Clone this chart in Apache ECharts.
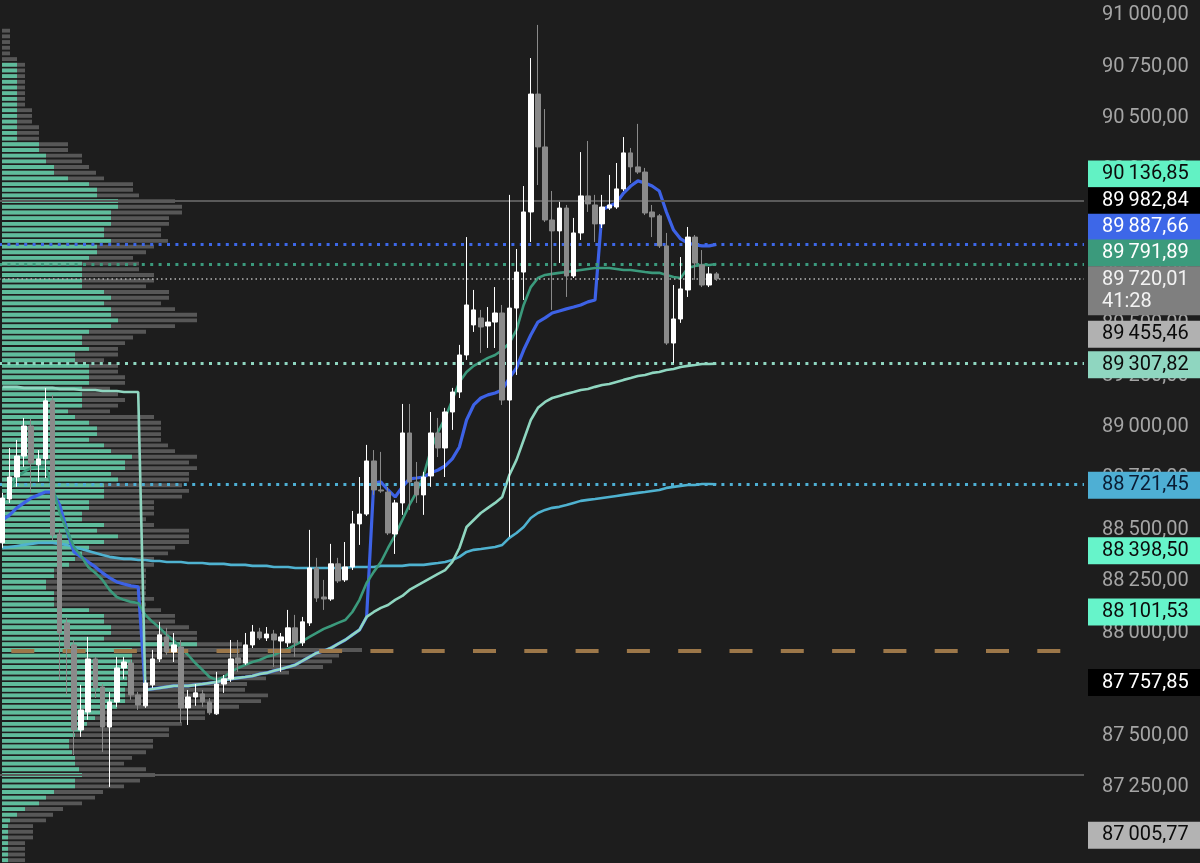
<!DOCTYPE html>
<html><head><meta charset="utf-8">
<script src="https://cdn.jsdelivr.net/npm/echarts/dist/echarts.min.js"></script>
<style>html,body{margin:0;padding:0;background:#1d1d1d;}#chart{width:1200px;height:863px;}</style>
</head><body><div id="chart"></div>
<script>
// ---- candles ----
const opens = [88437,88650,88757,88859,89005,88816,88845,89127,88480,88048,
87941,87528,87615,87873,87737,87542,87664,87829,87853,87698,
87645,87747,87873,87980,87907,87931,87635,87688,87703,87664,
87606,87751,87776,87878,87853,87941,88004,87975,87994,87960,
87951,88024,87951,88048,88315,88174,88164,88335,88257,88320,
88529,88577,88835,88694,88684,88480,88631,88971,88733,88670,
88762,88971,88898,89073,89170,89350,89496,89530,89491,89510,
89554,89131,89578,89753,90045,90618,90361,90006,89953,90064,
89734,89943,90123,90079,89987,90064,90069,90157,90332,90264,
90239,90045,90026,89880,89408,89525,89666,89923,89787,89690,
89744];
const closes = [88655,88757,88859,89005,88825,88845,89127,88475,87999,87926,
87528,87625,87873,87732,87542,87664,87829,87858,87698,87649,
87756,87873,87990,87907,87941,87635,87688,87708,87664,87611,
87751,87776,87873,87853,87941,88004,87975,87994,87965,87980,
88024,87951,88053,88315,88169,88164,88335,88252,88320,88529,
88577,88835,88694,88689,88485,88631,88971,88733,88670,88757,
88971,88898,89073,89170,89350,89593,89569,89486,89510,89554,
89131,89578,89753,90045,90618,90361,90006,89953,90064,89734,
89943,90123,90084,89987,90069,90079,90157,90332,90264,90239,
90040,90021,89880,89408,89525,89671,89923,89797,89690,89744,
89720.01];
const lows = [88413,88631,88709,88806,88680,88733,88752,88451,87771,87698,
87406,87494,87577,87683,87421,87251,87640,87776,87674,87625,
87635,87732,87858,87892,87858,87562,87552,87645,87640,87601,
87601,87708,87761,87810,87844,87926,87965,87960,87834,87810,
87931,87883,87936,88033,88150,88111,88155,88242,88247,88305,
88427,88568,88670,88680,88475,88383,88573,88597,88631,88573,
88709,88854,88757,88986,89141,89326,89462,89360,89384,89384,
89107,88466,89253,89617,89899,90176,89996,89569,89797,89632,
89724,89909,90045,89899,89967,90055,90060,90147,90186,90230,
90030,89923,89870,89399,89311,89506,89632,89715,89680,89680,
89710];
const highs = [88680,88898,88937,89044,89039,88888,89190,89156,88500,88072,
87965,87747,87980,87883,87751,87713,87883,87883,87868,87713,
87771,87917,88053,88024,87999,87965,87722,87751,87722,87683,
87810,87795,87965,87965,87999,88038,88024,88028,88014,87999,
88111,88087,88077,88500,88364,88257,88432,88364,88441,88592,
88757,88913,88888,88879,88709,88646,89112,89112,88830,88782,
89073,89044,89093,89190,89399,89923,89666,89569,89583,89680,
89593,90128,89865,90171,90793,90954,90545,90147,90094,90079,
90016,90336,90390,90128,90128,90225,90283,90409,90356,90473,
90259,90079,90035,89943,89690,89826,89972,89933,89860,89778,
89753];

// ---- anchored VWAP lines ----
const blueLine = [88548,88573,88607,88631,88655,88670,88684,88684,88621,88500,
88393,88369,88344,88320,88291,88267,88247,88237,88228,88223,
87722,87727,87732,87737,87742,87742,87742,87747,87751,87756,
87761,87771,87776,87781,87785,87790,87800,87805,87815,87824,
87834,87844,87863,87883,87902,87912,87926,87946,87965,87990,
88014,88077,88728,88733,88694,88660,88709,88748,88752,88757,
88777,88791,88811,88845,88903,89034,89107,89141,89156,89165,
89180,89238,89287,89374,89447,89510,89530,89554,89564,89574,
89583,89593,89608,89617,90055,90074,90089,90137,90171,90196,
90186,90171,90147,90045,89957,89914,89894,89885,89880,89880,
89887.66];
const greenLine = [88631,88694,88757,88782,88801,88806,88806,88709,88582,88500,
88417,88373,88320,88291,88257,88208,88174,88160,88150,88145,
88087,88053,88024,87990,87960,87926,87892,87853,87820,87785,
87771,87785,87810,87829,87844,87858,87868,87883,87892,87907,
87922,87941,87960,87980,87999,88019,88033,88048,88062,88101,
88160,88242,88296,88344,88412,88475,88548,88621,88684,88767,
88888,88976,89044,89131,89219,89267,89297,89316,89336,89350,
89374,89408,89472,89593,89680,89724,89739,89744,89749,89753,
89758,89763,89768,89773,89773,89773,89768,89763,89763,89758,
89753,89749,89749,89739,89729,89724,89773,89783,89787,89787,
89791.89];
const tealLine = [89195,89195,89195,89190,89190,89190,89190,89190,89185,89185,
89185,89180,89180,89180,89175,89175,89175,89170,89170,89170,
87722,87727,87732,87737,87742,87742,87742,87747,87751,87756,
87761,87771,87776,87781,87785,87790,87800,87805,87815,87824,
87834,87844,87863,87883,87902,87912,87926,87946,87965,87990,
88014,88077,88101,88121,88135,88160,88179,88208,88228,88247,
88267,88286,88305,88344,88412,88514,88548,88582,88607,88631,
88660,88767,88840,88937,89034,89093,89122,89141,89151,89161,
89170,89180,89185,89195,89204,89209,89219,89229,89238,89248,
89253,89263,89267,89277,89282,89292,89297,89301,89306,89306,
89307.82];
const cyanLine = [88412,88417,88422,88427,88432,88437,88437,88437,88432,88427,
88417,88407,88398,88388,88378,88369,88364,88359,88359,88354,
88354,88349,88349,88344,88344,88344,88339,88339,88339,88335,
88335,88335,88330,88330,88330,88325,88325,88325,88320,88320,
88320,88315,88315,88315,88315,88315,88315,88315,88315,88320,
88320,88320,88320,88325,88325,88325,88325,88330,88330,88330,
88335,88339,88344,88354,88369,88393,88403,88407,88412,88417,
88427,88461,88485,88514,88558,88582,88597,88607,88612,88621,
88631,88641,88646,88650,88655,88660,88665,88670,88675,88680,
88684,88689,88694,88704,88709,88714,88718,88718,88723,88723,
88721.45];

// ---- volume profile (top bin first) ----
const profileTopPrice = 90926;
const profileStep = 27.61;
const profileBuy = [0,0,0,0,0,0,15,15,15,15,15,15,15,15,15,15,15,15,15,15,
37,37,44,44,52,52,66,87,95,95,116,116,109,109,109,102,102,109,95,95,
87,80,80,80,80,80,102,109,102,109,109,116,109,87,80,80,87,73,73,87,
87,87,87,80,80,80,80,66,73,87,95,95,87,102,109,130,123,123,109,116,
102,102,102,87,87,80,80,102,95,116,102,87,80,73,67,52,52,44,44,52,
52,52,87,102,102,109,109,102,195,130,130,130,130,128,125,125,123,123,123,115,
100,93,85,80,73,67,67,70,73,73,77,80,73,73,52,44,37,23,15,8,
6,6,6,6,6,6,6];
const profileTotal = [8,8,8,8,8,15,23,23,23,23,23,23,23,23,30,30,30,37,37,37,
66,66,80,80,87,94,102,131,131,137,173,180,180,167,167,159,159,166,152,144,
131,137,137,152,152,144,167,167,159,173,195,195,173,144,131,123,116,116,102,116,
116,123,123,108,116,123,116,108,152,159,159,159,159,166,173,195,187,195,187,187,
180,187,180,152,152,152,144,152,187,187,187,173,166,152,152,144,144,144,144,144,
152,144,159,173,173,187,195,195,240,360,337,330,321,287,264,245,243,266,259,237,
203,203,180,167,167,151,151,144,130,122,144,153,138,122,101,93,80,61,51,44,
31,31,31,23,23,23,23];

// ---- right-hand price tags ----
const tagPrices = [90136.85, 89982.84, 89887.66, 89791.89, 89720.01, 89455.46, 89307.82, 88721.45, 88398.50, 88101.53, 87757.85, 87005.77];
const tagExtra  = ['', '', '', '', '41:28', '', '', '', '', '', '', ''];
const levelHigh = 90098, levelLow = 87309, levelDash = 87912;

const slotCount = 152;
const slots = Array.from({length: slotCount}, (_, i) => String(i));

function fmt(v){
  const s = v.toFixed(2); const parts = s.split('.');
  const a = parts[0];
  return a.slice(0, a.length - 3) + '\u2009' + a.slice(-3) + ',' + parts[1];
}

const tagStyle = [
  {bg:'#62f2c4', fg:'#0b0b0b', dy:-19, line:null},
  {bg:'#000000', fg:'#ffffff', dy:-24, line:null},
  {bg:'#3d67e8', fg:'#ffffff', dy:-17, line:{color:'#3d67e8', width:3, type:[3,5.4]}},
  {bg:'#3b9a7c', fg:'#ffffff', dy:-11, line:{color:'#3b9a7c', width:3, type:[3,5.4]}},
  {bg:'#7f7f7f', fg:'#f2f2f2', dy:12, line:{color:'#b5b5b5', width:1.5, type:[1.5,3]}},
  {bg:'#b1b1b1', fg:'#0b0b0b', dy:1, line:null},
  {bg:'#8fd6c0', fg:'#0b0b0b', dy:1, line:{color:'#8fd6c0', width:3, type:[3,5.4]}},
  {bg:'#4eafd4', fg:'#0a1c33', dy:1, line:{color:'#4eafd4', width:3, type:[3,5.4]}},
  {bg:'#66f4ca', fg:'#0b0b0b', dy:0, line:null},
  {bg:'#66f4ca', fg:'#0b0b0b', dy:0, line:null},
  {bg:'#000000', fg:'#ffffff', dy:0, line:null},
  {bg:'#b3b3b3', fg:'#0b0b0b', dy:-2, line:null}
];

const markData = tagPrices.map((p, i) => {
  const st = tagStyle[i];
  return {
    yAxis: p,
    lineStyle: st.line ? {color: st.line.color, width: st.line.width, type: st.line.type} : {color: 'rgba(0,0,0,0)', width: 1, type: 'solid'},
    label: {
      show: true, position: 'end', distance: 4,
      formatter: fmt(p) + (tagExtra[i] ? '\n' + tagExtra[i] : ''),
      backgroundColor: st.bg, color: st.fg, opacity: 1,
      fontFamily: 'Roboto', fontSize: 20, lineHeight: 22,
      padding: [3, 30, 2, 14], offset: [0, st.dy]
    }
  };
});
markData.push({yAxis: levelHigh, lineStyle: {color:'#5a5a5a', width: 2, type:'solid'}, label:{show:false}});
markData.push({yAxis: levelLow, lineStyle: {color:'#5a5a5a', width: 2, type:'solid'}, label:{show:false}});
markData.push({yAxis: levelDash, lineStyle: {color:'#9c7749', width: 4, type:[23,28.3], dashOffset: 39}, label:{show:false}});

const chart = echarts.init(document.getElementById('chart'), null, {renderer:'canvas'});
const option = {
  backgroundColor: '#1d1d1d',
  animation: false,
  grid: {left: -1, right: 116, top: -36, bottom: -27, containLabel: false, outerBoundsMode: 'none'},
  xAxis: [
    {type:'category', data: slots, boundaryGap: true, show: false},
    {type:'value', min: -3, max: 1082, show: false}
  ],
  yAxis: {
    type:'value', position:'right', min: 86750, max: 91250, interval: 250,
    splitLine:{show:false}, axisLine:{show:false}, axisTick:{show:false},
    axisLabel:{show:true, margin: 18, align:'left', color:'#a5a5a5', fontFamily:'Roboto', fontSize:20, formatter: v => fmt(v)}
  },
  series: [
    {
      type:'custom', name:'profile', xAxisIndex: 1, yAxisIndex: 0, z: 1,
      encode: {x: [1, 2], y: 0},
      data: profileBuy.map((b, k) => [profileTopPrice - k * profileStep, b, profileTotal[k]]),
      renderItem: function(params, api){
        const p = api.value(0), buy = api.value(1), tot = api.value(2);
        const half = profileStep * 0.34;
        const a = api.coord([0, p + half]);
        const b = api.coord([buy, p - half]);
        const c = api.coord([tot, p - half]);
        return {type:'group', children:[
          {type:'rect', shape:{x:a[0], y:a[1], width:c[0]-a[0], height:c[1]-a[1]}, style:{fill:'#575757'}},
          {type:'rect', shape:{x:a[0], y:a[1], width:b[0]-a[0], height:b[1]-a[1]}, style:{fill:'#5fbc9c'}}
        ]};
      },
      markLine: {silent: true, symbol:['none','none'], animation:false, data: markData}
    },
    {type:'line', name:'cyan', data: cyanLine, showSymbol:false, z:3, lineStyle:{color:'#4fb2d0', width:2.6}},
    {type:'line', name:'blue', data: blueLine, showSymbol:false, z:3, lineStyle:{color:'#3d62e6', width:3.2}},
    {type:'line', name:'green', data: greenLine, showSymbol:false, z:3, lineStyle:{color:'#3b9a7c', width:2.6}},
    {type:'line', name:'teal', data: tealLine, showSymbol:false, z:3, lineStyle:{color:'#8fd6c0', width:2.6}},
    {
      type:'candlestick', name:'price', z: 5, barWidth: 5,
      data: opens.map((o, i) => [o, closes[i], lows[i], highs[i]]),
      itemStyle:{color:'#ffffff', color0:'#8a8a8a', borderColor:'#ffffff', borderColor0:'#8a8a8a', borderWidth:1}
    }
  ]
};
chart.setOption(option);
</script>
</body></html>
